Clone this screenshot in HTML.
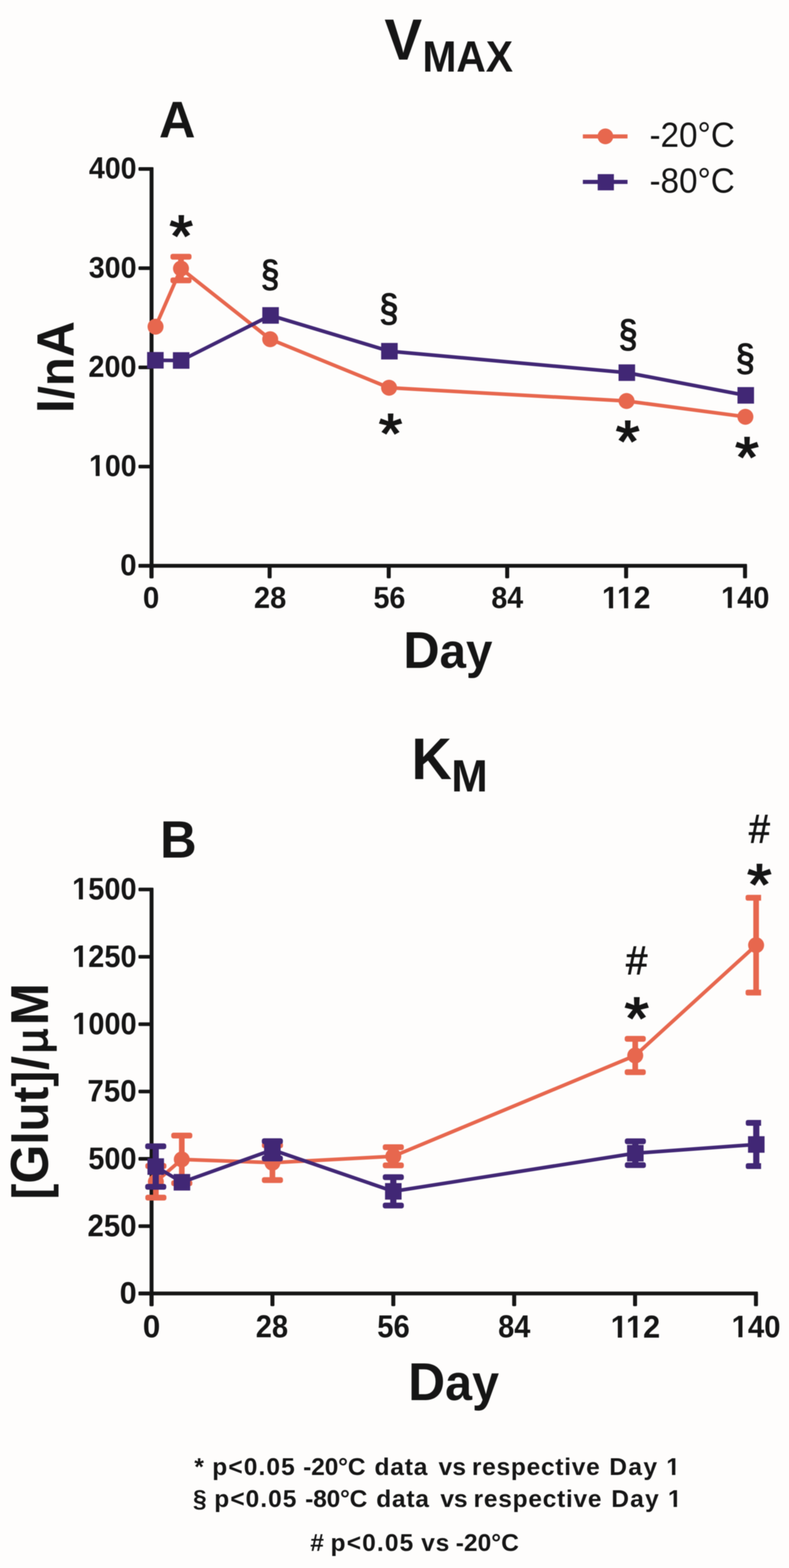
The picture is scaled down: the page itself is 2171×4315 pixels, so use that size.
<!DOCTYPE html>
<html lang="en"><head><meta charset="utf-8"><title>VMAX and KM stability</title>
<style>html,body{margin:0;padding:0;background:#fefdfc}body{width:2171px;height:4315px}svg{display:block;filter:blur(1.2px)}text{white-space:pre}.sb{font-family:"Liberation Sans",sans-serif;font-weight:bold}.sr{font-family:"Liberation Sans",sans-serif;font-weight:normal}.tb{font-family:"Liberation Serif",serif;font-weight:bold}</style></head><body>
<svg width="2171" height="4315" viewBox="0 0 2171 4315">
<g>
<rect width="2171" height="4315" fill="#fefdfc"/>
<text class="sb" font-size="159.71" transform="translate(1057.63 164.40) scale(0.9730 1)" fill="#151515">V</text>
<text class="sb" font-size="121.31" transform="translate(1162.43 196.80) scale(0.9246 1)" fill="#151515">MAX</text>
<text class="sb" font-size="141.82" transform="translate(437.53 377.50) scale(0.9788 1)" fill="#151515">A</text>
<rect x="1603.75" y="369.80" width="122.95" height="11.20" fill="#e7674e"/>
<circle cx="1665.8" cy="375.3" r="21.7" fill="#e7674e"/>
<text class="sr" font-size="95.97" transform="translate(1787.13 404.44) scale(0.9530 1)" fill="#151515">-20°C</text>
<rect x="1603.75" y="495.00" width="122.95" height="11.20" fill="#412775"/>
<rect x="1644.60" y="479.20" width="44.60" height="44.60" fill="#412775"/>
<text class="sr" font-size="96.04" transform="translate(1787.13 530.29) scale(0.9523 1)" fill="#151515">-80°C</text>
<rect x="411.60" y="460.00" width="10.80" height="1131.50" fill="#151515" rx="2"/>
<rect x="381.00" y="1551.85" width="1674.50" height="10.30" fill="#151515" rx="2"/>
<rect x="381.00" y="1552.00" width="36.00" height="10.00" fill="#151515" rx="3"/>
<rect x="381.00" y="1279.00" width="36.00" height="10.00" fill="#151515" rx="3"/>
<rect x="381.00" y="1006.00" width="36.00" height="10.00" fill="#151515" rx="3"/>
<rect x="381.00" y="733.00" width="36.00" height="10.00" fill="#151515" rx="3"/>
<rect x="381.00" y="460.00" width="36.00" height="10.00" fill="#151515" rx="3"/>
<rect x="411.25" y="1557.00" width="11.00" height="34.50" fill="#151515" rx="3"/>
<rect x="736.40" y="1557.00" width="11.00" height="34.50" fill="#151515" rx="3"/>
<rect x="1064.10" y="1557.00" width="11.00" height="34.50" fill="#151515" rx="3"/>
<rect x="1390.10" y="1557.00" width="11.00" height="34.50" fill="#151515" rx="3"/>
<rect x="1717.30" y="1557.00" width="11.00" height="34.50" fill="#151515" rx="3"/>
<rect x="2044.50" y="1557.00" width="11.00" height="34.50" fill="#151515" rx="3"/>
<text class="sb" font-size="82.69" transform="translate(330.76 1583.42) scale(0.9803 1)" fill="#151515">0</text>
<text class="sb" font-size="82.69" transform="translate(245.11 1310.42) scale(0.9467 1)" fill="#151515">100</text>
<rect x="248.54" y="1300.49" width="14.84" height="11.44" fill="#fefdfc"/>
<rect x="274.12" y="1300.49" width="13.85" height="11.44" fill="#fefdfc"/>
<text class="sb" font-size="82.69" transform="translate(243.22 1037.42) scale(0.9607 1)" fill="#151515">200</text>
<text class="sb" font-size="82.39" transform="translate(244.23 764.22) scale(0.9566 1)" fill="#151515">300</text>
<text class="sb" font-size="82.69" transform="translate(244.82 491.42) scale(0.9488 1)" fill="#151515">400</text>
<text class="sb" font-size="83.39" transform="translate(393.26 1672.67) scale(0.9719 1)" fill="#151515">0</text>
<text class="sb" font-size="83.39" transform="translate(698.70 1672.67) scale(0.9582 1)" fill="#151515">28</text>
<text class="sb" font-size="83.39" transform="translate(1027.63 1672.67) scale(0.9467 1)" fill="#151515">56</text>
<text class="sb" font-size="83.39" transform="translate(1351.94 1672.67) scale(0.9448 1)" fill="#151515">84</text>
<text class="sb" font-size="84.59" transform="translate(1656.33 1673.50) scale(0.9786 1)" fill="#151515">112</text>
<rect x="1660.04" y="1663.37" width="15.61" height="11.63" fill="#fefdfc"/>
<rect x="1687.01" y="1663.37" width="14.56" height="11.63" fill="#fefdfc"/>
<rect x="1701.52" y="1663.37" width="15.61" height="11.63" fill="#fefdfc"/>
<rect x="1728.48" y="1663.37" width="14.56" height="11.63" fill="#fefdfc"/>
<text class="sb" font-size="83.39" transform="translate(1984.01 1672.67) scale(0.9578 1)" fill="#151515">140</text>
<rect x="1987.54" y="1662.66" width="15.11" height="11.51" fill="#fefdfc"/>
<rect x="2013.61" y="1662.66" width="14.10" height="11.51" fill="#fefdfc"/>
<text class="sb" font-size="144.00" transform="translate(201.50 1136.78) rotate(-90) scale(0.9550 1)" fill="#151515">I<tspan font-size="136.08">/n</tspan>A</text>
<text class="sb" font-size="143.27" transform="translate(1109.66 1837.50) scale(0.9655 1)" fill="#151515">D<tspan font-size="135.39">ay</tspan></text>
<rect x="490.25" y="706.50" width="15.50" height="65.00" fill="#e7674e"/>
<rect x="469.00" y="698.50" width="58.00" height="16.00" fill="#e7674e" rx="6"/>
<rect x="469.00" y="763.50" width="58.00" height="16.00" fill="#e7674e" rx="6"/>
<polyline points="428.0,899.0 498.0,739.0 743.5,933.5 1070.5,1067.0 1724.0,1103.5 2051.0,1147.0" fill="none" stroke="#e7674e" stroke-width="10.0" stroke-linejoin="round"/>
<circle cx="428.0" cy="899.0" r="22" fill="#e7674e"/>
<circle cx="498.0" cy="739.0" r="22" fill="#e7674e"/>
<circle cx="743.5" cy="933.5" r="22" fill="#e7674e"/>
<circle cx="1070.5" cy="1067.0" r="22" fill="#e7674e"/>
<circle cx="1724.0" cy="1103.5" r="22" fill="#e7674e"/>
<circle cx="2051.0" cy="1147.0" r="22" fill="#e7674e"/>
<polyline points="427.5,991.5 498.5,992.0 744.5,868.0 1071.5,966.5 1724.8,1025.5 2052.0,1088.0" fill="none" stroke="#412775" stroke-width="10.0" stroke-linejoin="round"/>
<rect x="404.75" y="968.75" width="45.50" height="45.50" fill="#412775"/>
<rect x="475.75" y="969.25" width="45.50" height="45.50" fill="#412775"/>
<rect x="721.75" y="845.25" width="45.50" height="45.50" fill="#412775"/>
<rect x="1048.75" y="943.75" width="45.50" height="45.50" fill="#412775"/>
<rect x="1702.00" y="1002.75" width="45.50" height="45.50" fill="#412775"/>
<rect x="2029.25" y="1065.25" width="45.50" height="45.50" fill="#412775"/>
<text class="sr" font-size="159.57" transform="translate(466.76 704.28) scale(1.0280 1)" fill="#151515" stroke="#151515" stroke-width="4.15">*</text>
<text class="sr" font-size="152.93" transform="translate(1042.76 1244.62) scale(1.0727 1)" fill="#151515" stroke="#151515" stroke-width="3.98">*</text>
<text class="sr" font-size="159.57" transform="translate(1694.75 1269.28) scale(1.0444 1)" fill="#151515" stroke="#151515" stroke-width="4.15">*</text>
<text class="sr" font-size="155.59" transform="translate(2023.26 1311.49) scale(1.0628 1)" fill="#151515" stroke="#151515" stroke-width="4.05">*</text>
<text class="sb" font-size="106.79" transform="translate(719.05 788.49) scale(0.8356 1)" fill="#151515">§</text>
<text class="sb" font-size="108.64" transform="translate(1044.96 883.28) scale(0.8497 1)" fill="#151515">§</text>
<text class="sb" font-size="109.88" transform="translate(1703.49 954.14) scale(0.8308 1)" fill="#151515">§</text>
<text class="sb" font-size="108.02" transform="translate(2025.46 1019.35) scale(0.8545 1)" fill="#151515">§</text>
<text class="sb" font-size="162.18" transform="translate(1132.14 2144.00) scale(0.9464 1)" fill="#151515">K</text>
<text class="sb" font-size="123.64" transform="translate(1241.87 2177.50) scale(0.9741 1)" fill="#151515">M</text>
<text class="sb" font-size="144.00" transform="translate(440.59 2360.00) scale(0.9677 1)" fill="#151515">B</text>
<rect x="411.60" y="2442.85" width="10.80" height="1151.65" fill="#151515" rx="2"/>
<rect x="381.00" y="3554.35" width="1704.50" height="10.30" fill="#151515" rx="2"/>
<rect x="381.00" y="3554.50" width="36.00" height="10.00" fill="#151515" rx="3"/>
<rect x="381.00" y="3369.22" width="36.00" height="10.00" fill="#151515" rx="3"/>
<rect x="381.00" y="3183.95" width="36.00" height="10.00" fill="#151515" rx="3"/>
<rect x="381.00" y="2998.68" width="36.00" height="10.00" fill="#151515" rx="3"/>
<rect x="381.00" y="2813.40" width="36.00" height="10.00" fill="#151515" rx="3"/>
<rect x="381.00" y="2628.12" width="36.00" height="10.00" fill="#151515" rx="3"/>
<rect x="381.00" y="2442.85" width="36.00" height="10.00" fill="#151515" rx="3"/>
<rect x="411.50" y="3559.50" width="11.00" height="35.00" fill="#151515" rx="3"/>
<rect x="744.11" y="3559.50" width="11.00" height="35.00" fill="#151515" rx="3"/>
<rect x="1076.72" y="3559.50" width="11.00" height="35.00" fill="#151515" rx="3"/>
<rect x="1409.34" y="3559.50" width="11.00" height="35.00" fill="#151515" rx="3"/>
<rect x="1741.95" y="3559.50" width="11.00" height="35.00" fill="#151515" rx="3"/>
<rect x="2074.56" y="3559.50" width="11.00" height="35.00" fill="#151515" rx="3"/>
<text class="sb" font-size="84.81" transform="translate(329.13 3587.05) scale(0.9930 1)" fill="#151515">0</text>
<text class="sb" font-size="84.81" transform="translate(240.66 3401.78) scale(0.9552 1)" fill="#151515">250</text>
<text class="sb" font-size="84.81" transform="translate(243.12 3216.50) scale(0.9374 1)" fill="#151515">500</text>
<text class="sb" font-size="84.81" transform="translate(240.55 3031.23) scale(0.9560 1)" fill="#151515">750</text>
<text class="sb" font-size="84.81" transform="translate(199.03 2845.95) scale(0.9372 1)" fill="#151515">1000</text>
<rect x="202.54" y="2835.80" width="15.04" height="11.65" fill="#fefdfc"/>
<rect x="228.49" y="2835.80" width="14.04" height="11.65" fill="#fefdfc"/>
<text class="sb" font-size="84.81" transform="translate(198.52 2660.68) scale(0.9400 1)" fill="#151515">1250</text>
<rect x="202.04" y="2650.52" width="15.08" height="11.65" fill="#fefdfc"/>
<rect x="228.06" y="2650.52" width="14.07" height="11.65" fill="#fefdfc"/>
<text class="sb" font-size="84.81" transform="translate(198.52 2475.40) scale(0.9400 1)" fill="#151515">1500</text>
<rect x="202.04" y="2465.25" width="15.08" height="11.65" fill="#fefdfc"/>
<rect x="228.06" y="2465.25" width="14.07" height="11.65" fill="#fefdfc"/>
<text class="sb" font-size="86.22" transform="translate(393.05 3679.64) scale(1.0011 1)" fill="#151515">0</text>
<text class="sb" font-size="86.22" transform="translate(703.70 3679.64) scale(0.9268 1)" fill="#151515">28</text>
<text class="sb" font-size="86.22" transform="translate(1038.09 3679.64) scale(0.9323 1)" fill="#151515">56</text>
<text class="sb" font-size="86.22" transform="translate(1370.66 3679.64) scale(0.9246 1)" fill="#151515">84</text>
<text class="sb" font-size="87.46" transform="translate(1680.22 3680.50) scale(0.9655 1)" fill="#151515">112</text>
<rect x="1684.04" y="3670.08" width="15.89" height="11.92" fill="#fefdfc"/>
<rect x="1711.52" y="3670.08" width="14.82" height="11.92" fill="#fefdfc"/>
<rect x="1726.35" y="3670.08" width="15.89" height="11.92" fill="#fefdfc"/>
<rect x="1753.82" y="3670.08" width="14.82" height="11.92" fill="#fefdfc"/>
<text class="sb" font-size="86.22" transform="translate(2012.95 3679.64) scale(0.9375 1)" fill="#151515">140</text>
<rect x="2016.54" y="3669.34" width="15.27" height="11.80" fill="#fefdfc"/>
<rect x="2042.90" y="3669.34" width="14.25" height="11.80" fill="#fefdfc"/>
<text class="sb" font-size="147.20" transform="translate(132.10 3300.68) rotate(-90) scale(0.9383 1)" fill="#151515"><tspan font-size="139.10">[</tspan>G<tspan font-size="139.10">lut]</tspan></text>
<text class="sb" font-size="139.06" transform="translate(131.72 2944.58) rotate(-90) scale(0.9914 1)" fill="#151515">/</text>
<text class="sr" font-size="121.04" transform="translate(128.57 2898.13) rotate(-90) scale(0.9628 1)" fill="#151515" stroke="#151515" stroke-width="4.24">µ</text>
<text class="sb" font-size="147.20" transform="translate(132.10 2821.41) rotate(-90) scale(0.9467 1)" fill="#151515">M</text>
<text class="sb" font-size="146.91" transform="translate(1122.98 3853.00) scale(0.9596 1)" fill="#151515">D<tspan font-size="138.83">ay</tspan></text>
<rect x="421.15" y="3208.80" width="15.50" height="87.00" fill="#e7674e"/>
<rect x="399.90" y="3200.80" width="58.00" height="16.00" fill="#e7674e" rx="6"/>
<rect x="399.90" y="3287.80" width="58.00" height="16.00" fill="#e7674e" rx="6"/>
<rect x="492.45" y="3125.00" width="15.50" height="131.00" fill="#e7674e"/>
<rect x="471.20" y="3117.00" width="58.00" height="16.00" fill="#e7674e" rx="6"/>
<rect x="471.20" y="3248.00" width="58.00" height="16.00" fill="#e7674e" rx="6"/>
<rect x="741.85" y="3151.60" width="15.50" height="96.00" fill="#e7674e"/>
<rect x="720.60" y="3143.60" width="58.00" height="16.00" fill="#e7674e" rx="6"/>
<rect x="720.60" y="3239.60" width="58.00" height="16.00" fill="#e7674e" rx="6"/>
<rect x="1074.45" y="3157.00" width="15.50" height="50.00" fill="#e7674e"/>
<rect x="1053.20" y="3149.00" width="58.00" height="16.00" fill="#e7674e" rx="6"/>
<rect x="1053.20" y="3199.00" width="58.00" height="16.00" fill="#e7674e" rx="6"/>
<rect x="1740.15" y="2858.80" width="15.50" height="91.60" fill="#e7674e"/>
<rect x="1718.90" y="2850.80" width="58.00" height="16.00" fill="#e7674e" rx="6"/>
<rect x="1718.90" y="2942.40" width="58.00" height="16.00" fill="#e7674e" rx="6"/>
<rect x="2072.75" y="2470.50" width="15.50" height="261.00" fill="#e7674e"/>
<path d="M2057.50 2462.50H2094.20V2478.50H2057.50Q2051.50 2478.50 2051.50 2472.50V2468.50Q2051.50 2462.50 2057.50 2462.50Z" fill="#e7674e"/>
<path d="M2057.50 2723.50H2094.20V2739.50H2057.50Q2051.50 2739.50 2051.50 2733.50V2729.50Q2051.50 2723.50 2057.50 2723.50Z" fill="#e7674e"/>
<polyline points="428.9,3252.3 500.2,3190.5 749.6,3199.6 1082.2,3182.0 1747.9,2904.6 2080.5,2601.0" fill="none" stroke="#e7674e" stroke-width="10.0" stroke-linejoin="round"/>
<circle cx="428.9" cy="3252.3" r="22" fill="#e7674e"/>
<circle cx="500.2" cy="3190.5" r="22" fill="#e7674e"/>
<circle cx="749.6" cy="3199.6" r="22" fill="#e7674e"/>
<circle cx="1082.2" cy="3182.0" r="22" fill="#e7674e"/>
<circle cx="1747.9" cy="2904.6" r="22" fill="#e7674e"/>
<circle cx="2080.5" cy="2601.0" r="22" fill="#e7674e"/>
<rect x="420.00" y="3154.60" width="17.00" height="111.40" fill="#412775"/>
<rect x="399.50" y="3146.60" width="58.00" height="16.00" fill="#412775" rx="6"/>
<rect x="399.50" y="3258.00" width="58.00" height="16.00" fill="#412775" rx="6"/>
<rect x="740.90" y="3140.40" width="17.00" height="47.60" fill="#412775"/>
<rect x="720.40" y="3132.40" width="58.00" height="16.00" fill="#412775" rx="6"/>
<rect x="720.40" y="3180.00" width="58.00" height="16.00" fill="#412775" rx="6"/>
<rect x="1073.70" y="3239.50" width="17.00" height="78.00" fill="#412775"/>
<rect x="1053.20" y="3231.50" width="58.00" height="16.00" fill="#412775" rx="6"/>
<rect x="1053.20" y="3309.50" width="58.00" height="16.00" fill="#412775" rx="6"/>
<rect x="1739.70" y="3140.80" width="17.00" height="65.40" fill="#412775"/>
<rect x="1719.20" y="3132.80" width="58.00" height="16.00" fill="#412775" rx="6"/>
<rect x="1719.20" y="3198.20" width="58.00" height="16.00" fill="#412775" rx="6"/>
<rect x="2072.50" y="3090.00" width="17.00" height="119.00" fill="#412775"/>
<path d="M2058.00 3082.00H2094.20V3098.00H2058.00Q2052.00 3098.00 2052.00 3092.00V3088.00Q2052.00 3082.00 2058.00 3082.00Z" fill="#412775"/>
<path d="M2058.00 3201.00H2094.20V3217.00H2058.00Q2052.00 3217.00 2052.00 3211.00V3207.00Q2052.00 3201.00 2058.00 3201.00Z" fill="#412775"/>
<polyline points="428.5,3210.3 500.6,3253.5 749.4,3164.2 1082.2,3278.5 1748.2,3173.5 2081.0,3149.5" fill="none" stroke="#412775" stroke-width="10.0" stroke-linejoin="round"/>
<rect x="405.75" y="3187.55" width="45.50" height="45.50" fill="#412775"/>
<rect x="477.85" y="3230.75" width="45.50" height="45.50" fill="#412775"/>
<rect x="726.65" y="3141.45" width="45.50" height="45.50" fill="#412775"/>
<rect x="1059.45" y="3255.75" width="45.50" height="45.50" fill="#412775"/>
<rect x="1725.45" y="3150.75" width="45.50" height="45.50" fill="#412775"/>
<rect x="2058.25" y="3126.75" width="45.50" height="45.50" fill="#412775"/>
<text class="sr" font-size="111.21" transform="translate(1722.53 2680.59) scale(0.9507 1)" fill="#151515" stroke="#151515" stroke-width="2.22">#</text>
<text class="sr" font-size="110.50" transform="translate(2060.72 2318.90) scale(0.9361 1)" fill="#151515" stroke="#151515" stroke-width="2.21">#</text>
<text class="sr" font-size="161.17" transform="translate(1718.83 2856.90) scale(1.0585 1)" fill="#151515" stroke="#151515" stroke-width="4.19">*</text>
<text class="sr" font-size="158.24" transform="translate(2056.33 2488.35) scale(1.0798 1)" fill="#151515" stroke="#151515" stroke-width="4.11">*</text>
<text class="sb" font-size="67.50" x="534.64" y="4059.00" fill="#151515">*</text>
<text class="sb" font-size="67.50" x="584.11" y="4059.00" letter-spacing="2.96" fill="#151515">p&lt;0.05</text>
<text class="sb" font-size="67.50" x="834.30" y="4059.00" letter-spacing="-0.44" fill="#151515">-20°C</text>
<text class="sb" font-size="67.50" x="1030.50" y="4059.00" letter-spacing="2.26" fill="#151515">data</text>
<text class="sb" font-size="67.50" x="1206.66" y="4059.00" letter-spacing="0.61" fill="#151515">vs</text>
<text class="sb" font-size="67.50" x="1298.61" y="4059.00" letter-spacing="1.96" fill="#151515">respective</text>
<text class="sb" font-size="67.50" x="1676.44" y="4059.00" letter-spacing="3.85" fill="#151515">Day</text>
<text class="sb" font-size="67.50" x="1833.28" y="4059.00" fill="#151515">1</text>
<rect x="1836.03" y="4050.61" width="13.00" height="9.89" fill="#fefdfc"/>
<rect x="1858.30" y="4050.61" width="12.15" height="9.89" fill="#fefdfc"/>
<text class="sb" font-size="67.50" x="530.89" y="4147.00" fill="#151515">§</text>
<text class="sb" font-size="67.50" x="589.61" y="4147.00" letter-spacing="2.80" fill="#151515">p&lt;0.05</text>
<text class="sb" font-size="67.50" x="839.80" y="4147.00" letter-spacing="-0.56" fill="#151515">-80°C</text>
<text class="sb" font-size="67.50" x="1035.30" y="4147.00" letter-spacing="2.09" fill="#151515">data</text>
<text class="sb" font-size="67.50" x="1211.66" y="4147.00" letter-spacing="-0.09" fill="#151515">vs</text>
<text class="sb" font-size="67.50" x="1303.11" y="4147.00" letter-spacing="1.99" fill="#151515">respective</text>
<text class="sb" font-size="67.50" x="1681.94" y="4147.00" letter-spacing="3.35" fill="#151515">Day</text>
<text class="sb" font-size="67.50" x="1837.78" y="4147.00" fill="#151515">1</text>
<rect x="1840.53" y="4138.61" width="13.00" height="9.89" fill="#fefdfc"/>
<rect x="1862.80" y="4138.61" width="12.15" height="9.89" fill="#fefdfc"/>
<text class="sb" font-size="67.50" x="853.83" y="4268.30" fill="#151515">#</text>
<text class="sb" font-size="67.50" x="909.61" y="4268.30" letter-spacing="3.10" fill="#151515">p&lt;0.05</text>
<text class="sb" font-size="67.50" x="1159.06" y="4268.30" letter-spacing="2.21" fill="#151515">vs</text>
<text class="sb" font-size="67.50" x="1254.00" y="4268.30" letter-spacing="0.09" fill="#151515">-20°C</text>
</g></svg></body></html>
